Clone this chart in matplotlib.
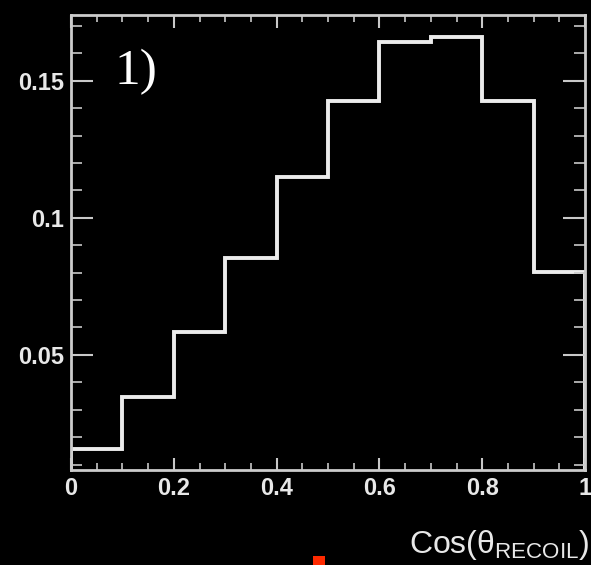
import numpy as np
import matplotlib.pyplot as plt
from matplotlib.patches import Rectangle
from matplotlib.ticker import MultipleLocator

plt.rcParams["mathtext.fontset"] = "custom"
plt.rcParams["mathtext.rm"] = "Liberation Sans"

# Bin edges and normalised counts for the recoil angle distribution
bin_edges = [0.0, 0.1, 0.2, 0.3, 0.4, 0.5, 0.6, 0.7, 0.8, 0.9, 1.0]
bin_values = [0.0157, 0.0347, 0.0584, 0.0854, 0.115, 0.1427, 0.1642, 0.1661, 0.1427, 0.0803]
x_ticks = [0, 0.2, 0.4, 0.6, 0.8, 1]
x_ticklabels = ["0", "0.2", "0.4", "0.6", "0.8", "1"]
y_ticks = [0.05, 0.1, 0.15]
y_ticklabels = ["0.05", "0.1", "0.15"]

fig = plt.figure(figsize=(5.91, 5.65), dpi=100, facecolor="black")
ax = fig.add_axes([71 / 591, 1 - 470 / 565, (585 - 71) / 591, (470 - 15) / 565])
ax.set_facecolor("black")

ax.stairs(bin_values, bin_edges, color="#ececec", linewidth=2.8)

ax.set_xlim(0, 1)
ax.set_ylim(0.008, 0.174)

ax.set_xticks(x_ticks)
ax.set_xticklabels(x_ticklabels)
ax.set_yticks(y_ticks)
ax.set_yticklabels(y_ticklabels)
ax.xaxis.set_minor_locator(MultipleLocator(0.05))
ax.yaxis.set_minor_locator(MultipleLocator(0.01))

for sp in ax.spines.values():
    sp.set_color("#cccccc")
    sp.set_linewidth(2)

ax.tick_params(which="both", direction="in", colors="#c8c8c8", top=True, right=True,
               labelcolor="#e8e8e8", labelsize=17)
# ROOT-style: y ticks longer than x ticks
ax.tick_params(axis="x", which="major", length=9, width=1.5, pad=5)
ax.tick_params(axis="x", which="minor", length=5, width=1.2)
ax.tick_params(axis="y", which="major", length=16, width=1.5, pad=5)
ax.tick_params(axis="y", which="minor", length=8, width=1.2)
for lab in ax.get_xticklabels() + ax.get_yticklabels():
    lab.set_fontfamily("Liberation Sans")
    lab.set_fontweight("bold")

ax.text(0.085, 0.875, "1)", transform=ax.transAxes, color="white", fontsize=37,
        family="Liberation Serif", va="center", ha="left")

fig.text(0.997, 1 - 545 / 565, "Cos(θ$_{\\mathregular{RECOIL}}$)", color="#e8e8e8",
         fontsize=23, family="Liberation Sans", ha="right", va="center")

# small red marker under the axis
fig.patches.append(Rectangle((313 / 591, 0), 12 / 591, 9 / 565, transform=fig.transFigure,
                             facecolor="#ff2a00", edgecolor="none"))

fig.savefig("out.png", dpi=100, facecolor="black")
